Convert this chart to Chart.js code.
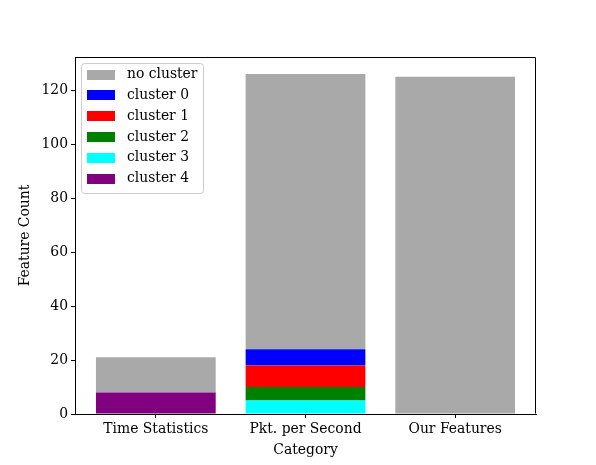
<!DOCTYPE html>
<html><head><meta charset="utf-8">
<script src="https://cdn.jsdelivr.net/npm/chart.js@4/dist/chart.umd.min.js"></script>
<style>html,body{margin:0;padding:0;background:#fff}#c{display:block}</style>
</head><body>
<canvas id="c" width="596" height="465"></canvas>
<script>
const categories = ['Time Statistics', 'Pkt. per Second', 'Our Features'];
const noCluster = [13, 102, 125];
const cluster0 = [0, 6, 0];
const cluster1 = [0, 8, 0];
const cluster2 = [0, 5, 0];
const cluster3 = [0, 5, 0];
const cluster4 = [8, 0, 0];
const yTicks = [0, 20, 40, 60, 80, 100, 120];

const FONT = 'DejaVu Serif';
const FS = 13.9;

function pts(arr){ return arr.map((v,i)=>({x:i, y:v})); }

// stacking order bottom -> top
const datasets = [
  {label:'cluster 4', data:pts(cluster4), backgroundColor:'#800080'},
  {label:'cluster 3', data:pts(cluster3), backgroundColor:'#00ffff'},
  {label:'cluster 2', data:pts(cluster2), backgroundColor:'#008000'},
  {label:'cluster 1', data:pts(cluster1), backgroundColor:'#ff0000'},
  {label:'cluster 0', data:pts(cluster0), backgroundColor:'#0000ff'},
  {label:'no cluster', data:pts(noCluster), backgroundColor:'#a9a9a9'}
];
const legendOrder = ['no cluster','cluster 0','cluster 1','cluster 2','cluster 3','cluster 4'];

const framePlugin = {
  id:'frame',
  afterDraw(chart){
    const ctx = chart.ctx, a = chart.chartArea;
    ctx.save();
    ctx.strokeStyle = '#000'; ctx.lineWidth = 1;
    const l = Math.round(a.left)+0.5, r = Math.round(a.right)-0.5, t = Math.round(a.top)+0.5, b = Math.round(a.bottom)-0.5;
    ctx.beginPath();
    ctx.moveTo(l,t); ctx.lineTo(r,t); ctx.moveTo(r,t); ctx.lineTo(r,b);
    ctx.stroke();
    // legend
    ctx.font = FS + 'px "' + FONT + '"';
    let maxW = 0;
    legendOrder.forEach(s=>{maxW = Math.max(maxW, ctx.measureText(s).width);});
    const bx = a.left + 6, by = a.top + 6;
    const rowH = 20.8;
    const hx = bx + 6, hw = 28, hh = 10;
    const tx = hx + hw + 12;
    const bw = (tx - bx) + maxW + 6;
    const bh = 11.5 + rowH*(legendOrder.length-1) + 14.2;
    ctx.fillStyle = 'rgba(255,255,255,0.8)';
    ctx.strokeStyle = '#cccccc';
    ctx.beginPath();
    if (ctx.roundRect) ctx.roundRect(Math.round(bx)+0.5, Math.round(by)+0.5, Math.round(bw), Math.round(bh), 3);
    else ctx.rect(Math.round(bx)+0.5, Math.round(by)+0.5, Math.round(bw), Math.round(bh));
    ctx.fill(); ctx.stroke();
    ctx.textBaseline = 'middle'; ctx.textAlign = 'left';
    legendOrder.forEach((s,i)=>{
      const ds = datasets.find(d=>d.label===s);
      const cy = by + 11.5 + rowH*i;
      ctx.fillStyle = ds.backgroundColor;
      ctx.fillRect(hx, Math.round(cy - hh/2), hw, hh);
      ctx.fillStyle = '#000';
      ctx.fillText(s, tx, cy);
    });
    ctx.restore();
  }
};

Chart.defaults.font.family = FONT;
Chart.defaults.font.size = FS;
Chart.defaults.color = '#000';

new Chart(document.getElementById('c'), {
  type:'bar',
  data:{datasets},
  options:{
    responsive:false, animation:false, devicePixelRatio:1,
    layout:{padding:{left:0, top:57, right:60, bottom:0}},
    datasets:{bar:{barPercentage:1, categoryPercentage:0.8, borderWidth:0}},
    plugins:{legend:{display:false}, tooltip:{enabled:false}},
    scales:{
      x:{
        type:'linear', stacked:true, offset:false, min:-0.54, max:2.54,
        afterBuildTicks(s){ s.ticks = categories.map((c,i)=>({value:i})); },
        afterFit(s){ s.height = 51; },
        ticks:{callback:(v)=>categories[v], padding:3, maxRotation:0, autoSkip:false},
        grid:{offset:false, drawOnChartArea:false, drawTicks:true, tickLength:4, color:'#000', lineWidth:1},
        border:{color:'#000', width:1},
        title:{display:true, text:'Category', padding:{top:0,bottom:6}}
      },
      y:{
        type:'linear', stacked:true, min:0, max:132.3,
        afterBuildTicks(s){ s.ticks = yTicks.map(v=>({value:v})); },
        afterFit(s){ s.width = 75; },
        ticks:{padding:3},
        grid:{offset:false, drawOnChartArea:false, drawTicks:true, tickLength:4, color:'#000', lineWidth:1},
        border:{color:'#000', width:1},
        title:{display:true, text:'Feature Count', padding:{top:17,bottom:0}}
      }
    }
  },
  plugins:[framePlugin]
});
</script>
</body></html>
